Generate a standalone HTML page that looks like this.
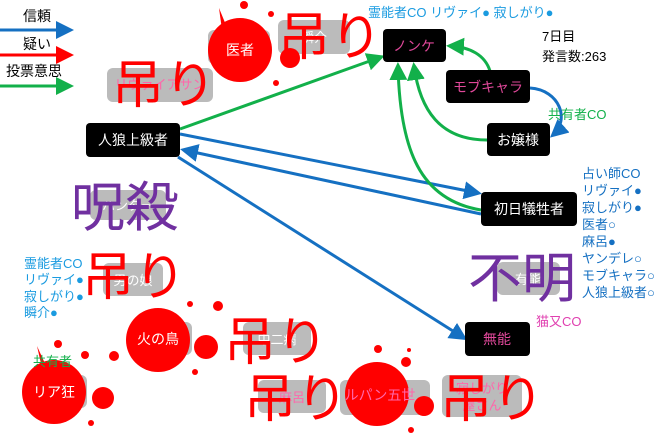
<!DOCTYPE html>
<html><head><meta charset="utf-8"><style>
body{margin:0;background:#fff}
svg{display:block}
text{font-family:"Liberation Sans","Noto Sans CJK JP",sans-serif}
</style></head><body>
<svg width="660" height="447" viewBox="0 0 660 447" xmlns="http://www.w3.org/2000/svg">
<defs>
<marker id="b" markerWidth="8" markerHeight="8" refX="6" refY="4" orient="auto" markerUnits="userSpaceOnUse" viewBox="0 0 8 8"><path d="M0,0L8,4L0,8z" fill="#1570c2"/></marker>
<marker id="bb" markerWidth="18" markerHeight="18" refX="14" refY="9" orient="auto" markerUnits="userSpaceOnUse"><path d="M0,0L18,9L0,18z" fill="#1570c2"/></marker>
<marker id="gg" markerWidth="18" markerHeight="18" refX="14" refY="9" orient="auto" markerUnits="userSpaceOnUse"><path d="M0,0L18,9L0,18z" fill="#12b04a"/></marker>
<marker id="rr" markerWidth="18" markerHeight="18" refX="14" refY="9" orient="auto" markerUnits="userSpaceOnUse"><path d="M0,0L18,9L0,18z" fill="#f00"/></marker>
</defs>
<!-- legend -->
<text x="23" y="21" font-size="14">信頼</text>
<line x1="0" y1="30" x2="70" y2="30" stroke="#1570c2" stroke-width="3" marker-end="url(#bb)"/>
<text x="23" y="49" font-size="14">疑い</text>
<line x1="0" y1="55" x2="70" y2="55" stroke="#f00" stroke-width="3" marker-end="url(#rr)"/>
<text x="6" y="76" font-size="14">投票意思</text>
<line x1="0" y1="86" x2="70" y2="86" stroke="#12b04a" stroke-width="3" marker-end="url(#gg)"/>

<!-- gray dead boxes -->
<g fill="#bbb">
<rect x="208" y="30" width="62" height="34" rx="6"/>
<rect x="278" y="20" width="72" height="34" rx="6"/>
<rect x="107" y="68" width="106" height="34" rx="6"/>
<rect x="90" y="190" width="76" height="30" rx="6"/>
<rect x="103" y="263" width="60" height="33" rx="6"/>
<rect x="130" y="322" width="62" height="33" rx="6"/>
<rect x="243" y="322" width="68" height="33" rx="6"/>
<rect x="258" y="380" width="68" height="33" rx="6"/>
<rect x="25" y="375" width="62" height="33" rx="6"/>
<rect x="340" y="380" width="90" height="35" rx="6"/>
<rect x="442" y="375" width="80" height="42" rx="6"/>
<rect x="497" y="262" width="63" height="33" rx="6"/>
</g>
<g font-size="13" fill="#fff" text-anchor="middle">
<text x="314" y="42">瞬介</text>
<text x="160" y="89" fill="#f6a">リヴァイアサン</text>
<text x="128" y="210">ハンター</text>
<text x="133" y="285">男の娘</text>
<text x="277" y="344">中二病</text>
<text x="292" y="402" fill="#f6a">麻呂</text>
<text x="482" y="393" fill="#f6a">寂しがり</text>
<text x="482" y="410" fill="#f6a">屋さん</text>
<text x="528" y="284">有能</text>
</g>

<!-- splats -->
<g fill="#f00">
<circle cx="240" cy="50" r="32"/><circle cx="290" cy="58" r="10"/><circle cx="244" cy="5" r="4"/><circle cx="271" cy="14" r="3"/><circle cx="276" cy="83" r="3"/><path d="M219,8L228,30L222,30z"/>
<circle cx="158" cy="340" r="32"/><circle cx="206" cy="347" r="12"/><circle cx="218" cy="306" r="5"/><circle cx="190" cy="304" r="3"/><circle cx="114" cy="356" r="5"/><circle cx="195" cy="372" r="3"/>
<circle cx="54" cy="392" r="32"/><circle cx="103" cy="398" r="11"/><circle cx="58" cy="344" r="4"/><circle cx="85" cy="355" r="4"/><circle cx="91" cy="423" r="3"/><path d="M37,346L47,368L42,368z"/>
<circle cx="377" cy="394" r="32"/><circle cx="424" cy="406" r="10"/><circle cx="378" cy="349" r="4"/><circle cx="406" cy="362" r="5"/><circle cx="409" cy="350" r="2"/><circle cx="411" cy="430" r="3"/>
</g>
<g font-size="14" fill="#fff" text-anchor="middle">
<text x="240" y="55">医者</text>
<text x="158" y="344">火の鳥</text>
<text x="54" y="397">リア狂</text>
<text x="380" y="400" fill="#f6a">ルパン五世</text>
</g>

<!-- arrows -->
<g fill="none" stroke-width="3">
<line x1="180" y1="129" x2="381" y2="57" stroke="#12b04a" marker-end="url(#gg)"/>
<line x1="180" y1="134" x2="478" y2="193" stroke="#1570c2" marker-end="url(#bb)"/>
<line x1="481" y1="214" x2="184" y2="150" stroke="#1570c2" marker-end="url(#bb)"/>
<line x1="178" y1="157" x2="464" y2="338" stroke="#1570c2" marker-end="url(#bb)"/>
<path d="M481,210C420,200 400,150 398,66" stroke="#12b04a" marker-end="url(#gg)"/>
<path d="M487,140C440,140 420,110 414,66" stroke="#12b04a" marker-end="url(#gg)"/>
<path d="M490,71C485,55 470,47 450,46" stroke="#12b04a" marker-end="url(#gg)"/>
<path d="M530,88C560,90 570,120 553,135" stroke="#1570c2" marker-end="url(#bb)"/>
</g>

<!-- black nodes -->
<g fill="#000">
<rect x="383" y="29" width="63" height="33" rx="4"/>
<rect x="446" y="70" width="84" height="33" rx="4"/>
<rect x="487" y="123" width="63" height="33" rx="4"/>
<rect x="86" y="123" width="94" height="34" rx="4"/>
<rect x="481" y="192" width="96" height="34" rx="4"/>
<rect x="465" y="322" width="65" height="34" rx="4"/>
</g>
<g font-size="14" fill="#fff" text-anchor="middle">
<text x="414" y="51" fill="#e0489a">ノンケ</text>
<text x="488" y="92" fill="#e0489a">モブキャラ</text>
<text x="518" y="145">お嬢様</text>
<text x="133" y="145">人狼上級者</text>
<text x="529" y="214">初日犠牲者</text>
<text x="497" y="344" fill="#e0489a">無能</text>
</g>

<!-- big labels -->
<g font-size="52" fill="#f00">
<text x="112" y="103">吊り</text>
<text x="278" y="55">吊り</text>
<text x="82" y="295">吊り</text>
<text x="224" y="360">吊り</text>
<text x="244" y="417">吊り</text>
<text x="440" y="417">吊り</text>
</g>
<g font-size="54" fill="#7030a0">
<text x="71" y="226">呪殺</text>
<text x="468" y="297">不明</text>
</g>

<!-- annotations -->
<g font-size="13" fill="#1a9be0">
<text x="368" y="17">霊能者CO リヴァイ● 寂しがり●</text>
<text x="24" y="268">霊能者CO</text>
<text x="24" y="284">リヴァイ●</text>
<text x="24" y="301">寂しがり●</text>
<text x="24" y="317">瞬介●</text>
</g>
<g font-size="13" fill="#1570c2">
<text x="582" y="178">占い師CO</text>
<text x="582" y="195">リヴァイ●</text>
<text x="582" y="212">寂しがり●</text>
<text x="582" y="229">医者○</text>
<text x="582" y="246">麻呂●</text>
<text x="582" y="263">ヤンデレ○</text>
<text x="582" y="280">モブキャラ○</text>
<text x="582" y="297">人狼上級者○</text>
</g>
<text x="542" y="41" font-size="13">7日目</text>
<text x="542" y="61" font-size="13">発言数:263</text>
<text x="548" y="119" font-size="13" fill="#12b04a">共有者CO</text>
<text x="33" y="366" font-size="13" fill="#12b04a">共有者</text>
<text x="536" y="326" font-size="13" fill="#e040b0">猫又CO</text>
</svg>
</body></html>
